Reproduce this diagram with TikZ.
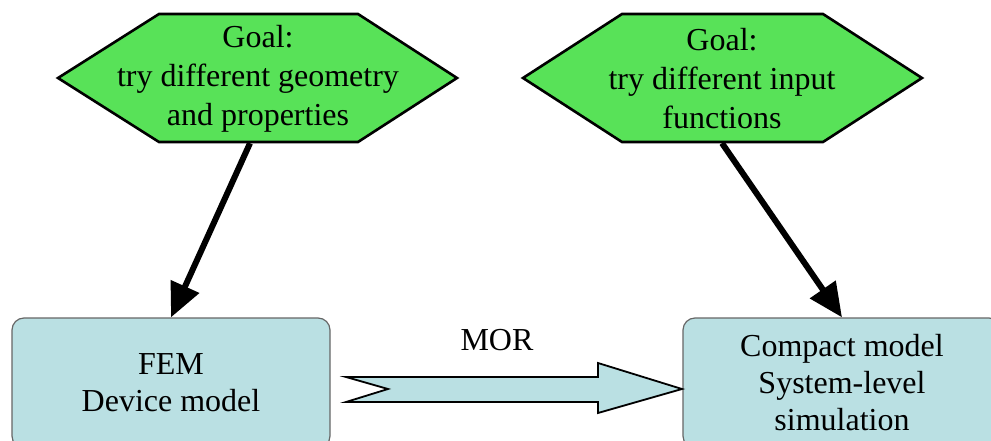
\documentclass[tikz,border=0pt]{standalone}
\usepackage{fontspec}
\setmainfont{Liberation Serif}
\newfontfamily\diafont{Liberation Serif}
\usepackage{xcolor}
\usetikzlibrary{arrows.meta}
\definecolor{goalgreen}{RGB}{88,226,88}
\definecolor{modelblue}{RGB}{186,224,227}

\begin{document}
\begin{tikzpicture}[x=1pt,y=-1pt,
  goalhex/.style={fill=goalgreen,draw=black,line width=2.6pt,line join=miter},
  goaltext/.style={align=center,minimum height=128pt,inner sep=0pt,font=\diafont\fontsize{32}{39}\selectfont},
  modelbox/.style={fill=modelblue,draw=black!60,line width=1.2pt,rounded corners=12pt,
    minimum width=318pt,minimum height=130pt,align=center,font=\diafont\fontsize{32}{37}\selectfont},
  goalarrow/.style={line width=6pt,-{Triangle[length=34pt,width=30pt]}}]
\clip (0,0) rectangle (991,441);
% goals
\draw[goalhex](159,14)--(358,14)--(457,78)--(358,142)--(159,142)--(58,78)--cycle;
\draw[goalhex](622,14)--(823,14)--(922,78)--(823,142)--(622,142)--(523,78)--cycle;
\node[goaltext](g1) at (258,79){Goal:\\try different geometry\\and properties};
\node[goaltext](g2) at (722,79){Goal:\\try different input\\functions};
% models
\node[modelbox](fem) at (171,383){FEM\\Device model};
\node[modelbox](cm) at (842,383){Compact model\\System-level\\simulation};
\draw[goalarrow]([xshift=-8pt]g1.south)--(fem.north);
\draw[goalarrow](g2.south)--(cm.north);
% MOR
\draw[fill=modelblue,line width=1.8pt](346,377)--(598,377)--(598,363)--(682,389)
  --(598,413)--(598,402)--(346,402)--(388,389)--cycle;
\node[font=\diafont\fontsize{32}{36}\selectfont](mor) at (497,340){MOR};
\end{tikzpicture}
\end{document}
